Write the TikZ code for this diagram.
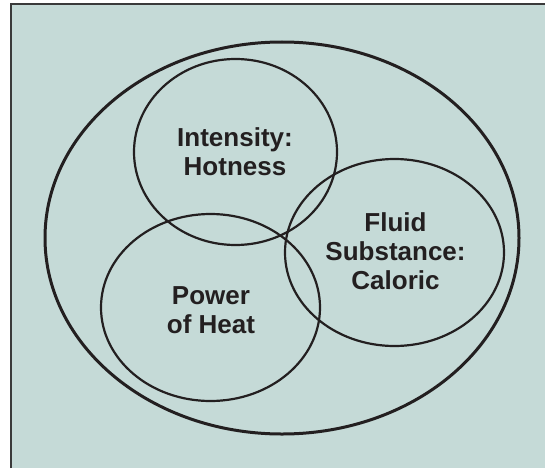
\documentclass[tikz,border=0pt]{standalone}
\usepackage{fontspec}
\setmainfont{Liberation Sans}
\definecolor{bgc}{HTML}{C5DAD7}
\definecolor{ink}{HTML}{231F20}
\definecolor{framec}{HTML}{3A3A3A}
\begin{document}
\begin{tikzpicture}[x=1pt,y=-1pt,
  outerline/.style={draw=ink,line width=3pt},
  innerline/.style={draw=ink,line width=2.2pt},
  lbl/.style={anchor=base,inner sep=0pt,text=ink,font=\fontsize{26}{29}\selectfont\bfseries}]
\useasboundingbox (0,0) rectangle (545,468);
\fill[bgc] (11,4) rectangle (545,468);
\draw[framec,line width=2pt] (11,468) -- (11,4) -- (545,4);
\coordinate (oc) at (282,238);
\coordinate (ic) at (235.5,152);
\coordinate (pc) at (210.5,307.5);
\coordinate (fc) at (394.5,252.5);
\draw[outerline] (oc) ellipse [x radius=237, y radius=196];
\draw[innerline] (ic) ellipse [x radius=101.5, y radius=93];
\draw[innerline] (pc) ellipse [x radius=109.5, y radius=93.5];
\draw[innerline] (fc) ellipse [x radius=109.5, y radius=93.5];
\node[lbl] (int1) at (235,146) {Intensity:};
\node[lbl] (int2) at (235,175) {Hotness};
\node[lbl] (flu1) at (395.5,231.5) {Fluid};
\node[lbl] (flu2) at (395.5,260) {Substance:};
\node[lbl] (flu3) at (395.5,289) {Caloric};
\node[lbl] (pow1) at (211,304) {Power};
\node[lbl] (pow2) at (211,333) {of Heat};
\end{tikzpicture}
\end{document}
